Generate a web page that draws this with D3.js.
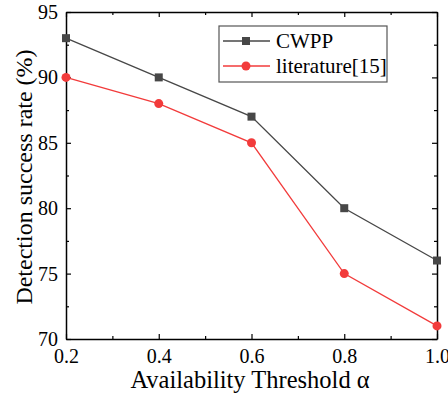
<!DOCTYPE html>
<html>
<head>
<meta charset="utf-8">
<script src="https://cdn.jsdelivr.net/npm/d3@7"></script>
<style>
  body { margin: 0; background: #fff; }
  svg text { font-family: 'Liberation Serif', 'DejaVu Serif', serif; }
</style>
</head>
<body>
<div id="chart"></div>
<script>
// data
const thresholds = [0.2, 0.4, 0.6, 0.8, 1.0];
const cwpp = [93, 90, 87, 80, 76];
const literature = [90, 88, 85, 75, 71];
const xTicks = [0.2, 0.4, 0.6, 0.8, 1.0];
const yTicks = [70, 75, 80, 85, 90, 95];

const FONT = "'Liberation Serif', 'DejaVu Serif', serif";
const width = 448, height = 396;
const m = { left: 66, right: 11, top: 12, bottom: 57 };

const svg = d3.select('#chart').append('svg')
  .attr('width', width)
  .attr('height', height);

const x = d3.scaleLinear().domain([0.2, 1.0]).range([m.left, width - m.right]);
const y = d3.scaleLinear().domain([70, 95]).range([height - m.bottom, m.top]);

// minor ticks
const xMinor = [0.3, 0.5, 0.7, 0.9];
const yMinor = [72.5, 77.5, 82.5, 87.5, 92.5];

const g = svg.append('g');

// bottom axis (ticks inward)
g.append('g').attr('transform', `translate(0,${y(70)})`)
  .call(d3.axisBottom(x).tickValues(xTicks).tickFormat(d3.format('.1f')).tickSizeInner(-5).tickSizeOuter(0).tickPadding(10));
g.append('g').attr('transform', `translate(0,${y(70)})`)
  .call(d3.axisBottom(x).tickValues(xMinor).tickFormat('').tickSizeInner(-3).tickSizeOuter(0))
  .select('.domain').remove();

// top axis
g.append('g').attr('transform', `translate(0,${y(95)})`)
  .call(d3.axisTop(x).tickValues(xTicks).tickFormat('').tickSizeInner(-5).tickSizeOuter(0));
g.append('g').attr('transform', `translate(0,${y(95)})`)
  .call(d3.axisTop(x).tickValues(xMinor).tickFormat('').tickSizeInner(-3).tickSizeOuter(0))
  .select('.domain').remove();

// left axis
g.append('g').attr('transform', `translate(${x(0.2)},0)`)
  .call(d3.axisLeft(y).tickValues(yTicks).tickSizeInner(-5).tickSizeOuter(0).tickPadding(8));
g.append('g').attr('transform', `translate(${x(0.2)},0)`)
  .call(d3.axisLeft(y).tickValues(yMinor).tickFormat('').tickSizeInner(-3).tickSizeOuter(0))
  .select('.domain').remove();

// right axis
g.append('g').attr('transform', `translate(${x(1.0)},0)`)
  .call(d3.axisRight(y).tickValues(yTicks).tickFormat('').tickSizeInner(-5).tickSizeOuter(0));
g.append('g').attr('transform', `translate(${x(1.0)},0)`)
  .call(d3.axisRight(y).tickValues(yMinor).tickFormat('').tickSizeInner(-3).tickSizeOuter(0))
  .select('.domain').remove();

g.selectAll('g').attr('font-family', FONT);
g.selectAll('.domain').attr('stroke', '#000').attr('stroke-width', 1.5);
g.selectAll('.tick line').attr('stroke', '#000').attr('stroke-width', 1.2);
g.selectAll('.tick text')
  .attr('font-size', 20)
  .attr('fill', '#000');

// series
const series = [
  { name: 'CWPP', values: cwpp, color: '#474747', marker: 'square' },
  { name: 'literature[15]', values: literature, color: '#f23b3b', marker: 'circle' }
];

const line = d3.line().x((d, i) => x(thresholds[i])).y(d => y(d));

const drawMarker = (sel, s, cx, cy) => {
  if (s.marker === 'square') {
    sel.append('rect').attr('x', cx - 4).attr('y', cy - 4).attr('width', 8).attr('height', 8)
      .attr('fill', s.color);
  } else {
    sel.append('circle').attr('cx', cx).attr('cy', cy).attr('r', 4.5).attr('fill', s.color);
  }
};

series.forEach(s => {
  svg.append('path').datum(s.values)
    .attr('fill', 'none').attr('stroke', s.color).attr('stroke-width', 1.3)
    .attr('d', line);
  const mg = svg.append('g');
  s.values.forEach((v, i) => drawMarker(mg, s, x(thresholds[i]), y(v)));
});

// legend
const lg = svg.append('g').attr('transform', 'translate(219,26)');
lg.append('rect').attr('width', 168).attr('height', 56)
  .attr('fill', '#fff').attr('stroke', '#555').attr('stroke-width', 1.2);
series.forEach((s, i) => {
  const ly = 15 + i * 25;
  lg.append('line').attr('x1', 4).attr('x2', 51).attr('y1', ly).attr('y2', ly)
    .attr('stroke', s.color).attr('stroke-width', 1.3);
  drawMarker(lg, s, 27, ly);
  lg.append('text').attr('x', 57).attr('y', ly + 7)
    .attr('font-family', FONT)
    .attr('font-size', 21).attr('fill', '#000').text(s.name);
});

// axis titles
svg.append('text')
  .attr('x', 250).attr('y', 388)
  .attr('text-anchor', 'middle').attr('font-family', FONT).attr('font-size', 24.5)
  .text('Availability Threshold α');

svg.append('text')
  .attr('transform', `translate(32,177) rotate(-90)`)
  .attr('text-anchor', 'middle').attr('font-family', FONT).attr('font-size', 24)
  .text('Detection success rate (%)');
</script>
</body>
</html>
